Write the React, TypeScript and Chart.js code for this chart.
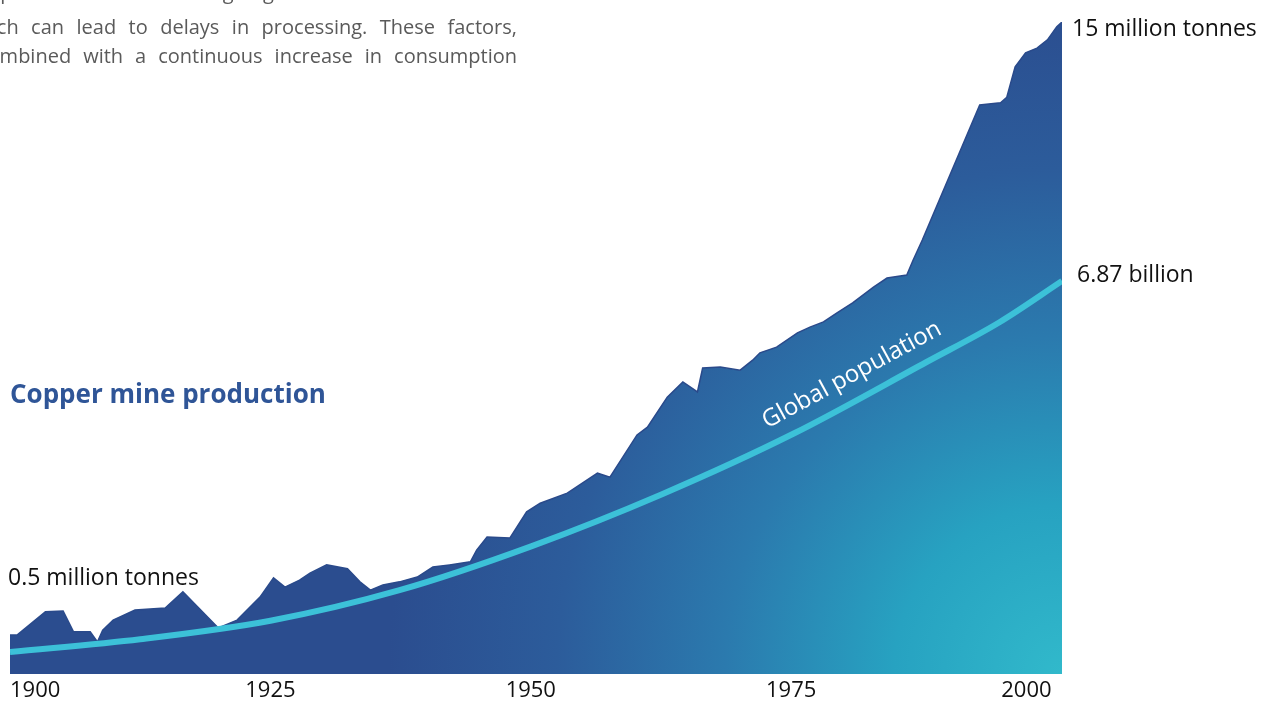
import { useEffect, useRef } from 'react';
import { Chart, registerables } from 'chart.js';

Chart.register(...registerables);

// Copper mine production (million tonnes)
const productionYears = [
  1900.0, 1900.7, 1903.4, 1905.1, 1906.1, 1907.7, 1908.4, 1908.9, 1909.9, 1912.0,
  1914.9, 1916.6, 1920.0, 1921.8, 1924.0, 1925.3, 1926.4, 1927.8, 1928.8, 1930.4,
  1932.4, 1933.6, 1934.6, 1935.8, 1937.4, 1939.1, 1940.6, 1942.2, 1944.2, 1944.8,
  1945.8, 1948.0, 1949.6, 1950.9, 1953.5, 1956.4, 1957.6, 1960.2, 1961.2, 1963.1,
  1964.6, 1966.0, 1966.5, 1968.2, 1970.1, 1971.3, 1972.0, 1973.6, 1975.6, 1976.8,
  1978.1, 1979.4, 1980.9, 1982.9, 1984.2, 1986.1, 1986.7, 1987.6, 1993.1, 1995.1,
  1995.7, 1996.5, 1997.5, 1998.6, 1999.6, 2000.5, 2001.0,
];
const productionValues = [
  0.90, 0.90, 1.43, 1.45, 0.97, 0.97, 0.74, 1.01, 1.24, 1.47,
  1.52, 1.89, 1.06, 1.24, 1.77, 2.21, 2.00, 2.16, 2.32, 2.51,
  2.42, 2.12, 1.93, 2.05, 2.12, 2.23, 2.46, 2.51, 2.58, 2.85,
  3.15, 3.13, 3.73, 3.93, 4.16, 4.62, 4.53, 5.50, 5.68, 6.37,
  6.72, 6.49, 7.04, 7.06, 6.99, 7.22, 7.39, 7.52, 7.85, 7.98,
  8.10, 8.31, 8.54, 8.90, 9.11, 9.18, 9.52, 9.99, 13.09, 13.14,
  13.27, 13.97, 14.29, 14.40, 14.59, 14.89, 15.0,
];

// Global population (billions)
const populationYears = [1900, 1912.5, 1925, 1937.4, 1950.1, 1962.6, 1975.2, 1988.0, 1995.0, 2001.0];
const populationValues = [1.65, 1.83, 2.09, 2.52, 3.14, 3.87, 4.72, 5.73, 6.29, 6.87];

const xTickYears = [1900, 1925, 1950, 1975, 2000];

const startProductionLabel = '0.5 million tonnes';
const endProductionLabel = '15 million tonnes';
const endPopulationLabel = '6.87 billion';
const productionTitle = 'Copper mine production';
const populationTitle = 'Global population';
const populationLabelYear = 1982.1;
const populationLabelValue = 5.2;

const paragraphLines = [
  'ent production and the ongoing strikes at several of the',
  'which can lead to delays in processing. These factors,',
  'combined with a continuous increase in consumption',
];

const FONT = '"Open Sans", "Noto Sans", sans-serif';

const annotationPlugin = {
  id: 'copperAnnotations',
  afterDatasetsDraw(chart: any) {
    const { ctx, chartArea } = chart;
    const xs = chart.scales.x;
    const ys = chart.scales.y;
    const y2 = chart.scales.y2;
    ctx.save();
    ctx.textBaseline = 'middle';
    ctx.textAlign = 'left';
    ctx.fillStyle = '#111111';
    ctx.font = `23px ${FONT}`;

    const lp = productionYears.length - 1;
    const endPX = xs.getPixelForValue(productionYears[lp]);
    const endPY = ys.getPixelForValue(productionValues[lp]);
    ctx.fillText(endProductionLabel, endPX + 10, endPY + 7);

    const lq = populationYears.length - 1;
    const endQX = xs.getPixelForValue(populationYears[lq]);
    const endQY = y2.getPixelForValue(populationValues[lq]);
    ctx.fillText(endPopulationLabel, endQX + 15, endQY - 6);

    const startPY = ys.getPixelForValue(productionValues[0]);
    ctx.fillText(startProductionLabel, chartArea.left - 2, startPY - 56);

    ctx.font = `bold 26px ${FONT}`;
    ctx.fillStyle = '#2f5597';
    ctx.fillText(productionTitle, chartArea.left, 396);

    // Global population label along the curve
    const ax = xs.getPixelForValue(populationLabelYear);
    const ay = y2.getPixelForValue(populationLabelValue);
    ctx.translate(ax, ay);
    ctx.rotate((-28.5 * Math.PI) / 180);
    ctx.font = `24px ${FONT}`;
    ctx.fillStyle = '#ffffff';
    ctx.textAlign = 'center';
    ctx.fillText(populationTitle, 0, -28);
    ctx.restore();
  },
};

export default function App() {
  const canvasRef = useRef<HTMLCanvasElement | null>(null);

  useEffect(() => {
    const canvas = canvasRef.current;
    if (!canvas) return;
    const chart = new Chart(canvas, {
      type: 'line',
      data: {
        datasets: [
          {
            label: 'Global population',
            data: populationYears.map((y, i) => ({ x: y, y: populationValues[i] })),
            yAxisID: 'y2',
            borderColor: '#3cc1d8',
            borderWidth: 6,
            pointRadius: 0,
            fill: false,
            cubicInterpolationMode: 'monotone',
            order: 0,
          },
          {
            label: 'Copper mine production',
            data: productionYears.map((y, i) => ({ x: y, y: productionValues[i] })),
            yAxisID: 'y',
            borderColor: '#2a4a8b',
            borderWidth: 1.5,
            pointRadius: 0,
            tension: 0,
            fill: 'origin',
            order: 1,
            backgroundColor: (c: any) => {
              const ch = c.chart;
              const ca = ch.chartArea;
              if (!ca) return '#2b4f91';
              const r = (ca.right - ca.left) * 0.64;
              const g = ch.ctx.createRadialGradient(ca.right, ca.bottom, 0, ca.right, ca.bottom, r);
              g.addColorStop(0, '#31b9cb');
              g.addColorStop(0.25, '#27a2c1');
              g.addColorStop(0.5, '#2b7aae');
              g.addColorStop(0.75, '#2c5c9b');
              g.addColorStop(1, '#2b4d8f');
              return g;
            },
          },
        ],
      },
      options: {
        responsive: false,
        animation: false,
        layout: { padding: { left: 10, right: 199, top: 22, bottom: 0 } },
        plugins: {
          legend: { display: false },
          tooltip: { enabled: false },
        },
        scales: {
          x: {
            type: 'linear',
            min: 1900,
            max: 2001,
            grid: { display: false, drawTicks: false },
            border: { display: false },
            afterBuildTicks: (scale: any) => {
              scale.ticks = xTickYears.map((v) => ({ value: v }));
            },
            afterFit: (scale: any) => {
              scale.height = 27;
            },
            ticks: {
              align: 'inner',
              padding: 4,
              color: '#111111',
              font: { family: FONT, size: 22 },
              maxRotation: 0,
              callback: (v: any) => String(v),
            },
          },
          y: { type: 'linear', min: 0, max: 15, display: false },
          y2: { type: 'linear', min: 1.34, max: 10.514, display: false },
        },
      } as any,
      plugins: [annotationPlugin],
    });
    return () => chart.destroy();
  }, []);

  const lineStyle = (top: number, left: number): React.CSSProperties => ({
    position: 'absolute',
    top,
    left,
    width: 517 - left,
    height: 28,
    lineHeight: '28px',
    whiteSpace: 'nowrap',
    textAlign: 'justify',
    textAlignLast: 'justify',
    fontFamily: FONT,
    fontSize: 20,
    color: '#5a5a5a',
  });

  return (
    <div
      style={{
        position: 'fixed',
        left: 0,
        top: 0,
        width: 1261,
        height: 701,
        overflow: 'hidden',
        background: '#ffffff',
      }}
    >
      <canvas ref={canvasRef} width={1261} height={701} style={{ width: 1261, height: 701, display: 'block' }} />
      <div style={lineStyle(-22, -40)}>{paragraphLines[0]}</div>
      <div style={lineStyle(13, -36)}>{paragraphLines[1]}</div>
      <div style={lineStyle(42, -22)}>{paragraphLines[2]}</div>
    </div>
  );
}
